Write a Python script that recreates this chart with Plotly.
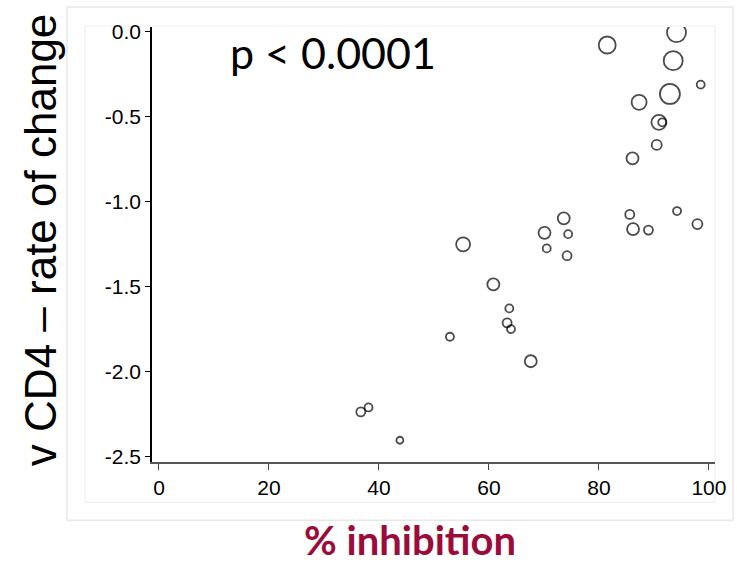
import plotly.graph_objects as go

# % inhibition (x) vs. rate of change of sqrt CD4 (y), with a per-subject weight
inhibition = [94.1, 81.5, 93.5, 98.5, 92.9, 87.3, 90.9, 91.5, 90.5, 86.1,
              73.6, 70.1, 74.4, 70.5, 74.2, 85.6, 86.2, 89.0, 94.2, 97.9,
              55.3, 60.8, 63.7, 63.3, 64.0, 52.9, 67.6, 36.7, 38.1, 43.8]
rate_change = [-0.004, -0.077, -0.169, -0.31, -0.365, -0.414, -0.532, -0.532, -0.665, -0.744,
               -1.097, -1.182, -1.19, -1.274, -1.317, -1.074, -1.16, -1.166, -1.054, -1.131,
               -1.25, -1.486, -1.627, -1.712, -1.749, -1.794, -1.938, -2.236, -2.21, -2.403]
weight = [19, 17, 19, 8, 20, 15, 15, 8, 10, 12,
          12, 12, 8, 8, 9, 9, 12, 9, 8, 10,
          14, 12, 8, 9, 8, 8, 12, 9, 8, 7]

x_ticks = [0, 20, 40, 60, 80, 100]
y_ticks = [0.0, -0.5, -1.0, -1.5, -2.0, -2.5]
y_tick_text = ["0.0", "-0.5", "-1.0", "-1.5", "-2.0", "-2.5"]

W, H = 737, 567
L, R, T, B = 152, 715, 27, 461.7


def px(xp):
    return (xp - L) / (R - L)


def py(yp):
    return (B - yp) / (B - T)


fig = go.Figure()
fig.add_trace(go.Scatter(
    x=inhibition, y=rate_change, mode="markers",
    marker=dict(size=weight, sizemode="diameter", color="rgba(0,0,0,0)",
                line=dict(color="black", width=1.8)),
    hoverinfo="x+y", showlegend=False,
))

tick_font = dict(family="Liberation Sans, Arial, sans-serif", size=21, color="black")

fig.update_xaxes(
    range=[-1.27, 101.1], tickvals=x_ticks, ticks="outside", ticklen=6,
    tickcolor="#444", tickwidth=1.3, showline=True, linecolor="#555", linewidth=1.5,
    showgrid=False, zeroline=False, tickfont=tick_font,
)
fig.update_yaxes(
    range=[-2.531, 0.029], tickvals=y_ticks, ticktext=y_tick_text, ticks="outside",
    ticklen=5, tickcolor="black", tickwidth=1.2, showline=True, linecolor="black",
    linewidth=1.5, showgrid=False, zeroline=False, tickfont=tick_font,
)

# light frames around the chart panel
fig.add_shape(type="rect", xref="paper", yref="paper",
              x0=px(67), x1=px(733), y0=py(520), y1=py(7),
              line=dict(color="#e8e8e8", width=1.5), layer="below")
fig.add_shape(type="rect", xref="paper", yref="paper",
              x0=px(85), x1=px(715), y0=py(502), y1=py(26),
              line=dict(color="#f0f0f0", width=1.2), layer="below")

fig.add_annotation(
    text="p < 0.0001", xref="paper", yref="paper", x=px(333), y=py(52),
    showarrow=False, xanchor="center", yanchor="middle",
    font=dict(family="Lato, sans-serif", size=43, color="black"),
)
fig.add_annotation(
    text="v CD4 – rate of change", xref="paper", yref="paper", x=px(40), y=py(240),
    showarrow=False, textangle=-90, xanchor="center", yanchor="middle",
    font=dict(family="Liberation Sans, Arial, sans-serif", size=44, color="black"),
)
fig.add_annotation(
    text="<b>% inhibition</b>", xref="paper", yref="paper", x=px(410), y=py(540),
    showarrow=False, xanchor="center", yanchor="middle",
    font=dict(family="Lato, sans-serif", size=40, color="#9b0c3b"),
)

fig.update_layout(
    width=W, height=H, autosize=False,
    margin=dict(l=L, r=W - R, t=T, b=H - B),
    paper_bgcolor="white", plot_bgcolor="white",
)

fig.write_html("out.html")
